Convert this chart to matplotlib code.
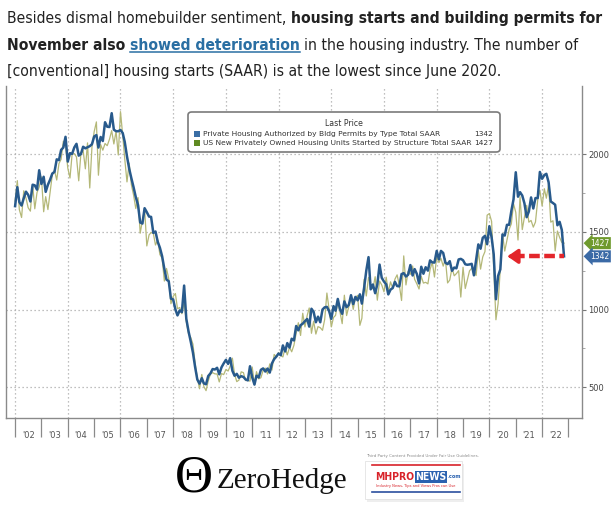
import matplotlib
matplotlib.use("Agg")
import matplotlib.pyplot as plt
import matplotlib.dates as mdates
import matplotlib.transforms as mtrans
from matplotlib import font_manager
from matplotlib.patches import FancyBboxPatch, Rectangle
from matplotlib.lines import Line2D
import pandas as pd

# monthly SAAR, thousands, Jan 2002 - Nov 2022
permits = [
    1665, 1787, 1691, 1669, 1716, 1758, 1738, 1695, 1803, 1799, 1771, 1896,
    1808, 1854, 1757, 1803, 1835, 1875, 1885, 1966, 1961, 2027, 2042, 2111,
    1952, 2006, 2001, 2043, 2066, 1990, 2000, 2047, 2037, 2044, 2051, 2063,
    2113, 2122, 2042, 2110, 2084, 2205, 2176, 2174, 2263, 2157, 2147, 2147,
    2155, 2135, 2078, 1985, 1907, 1844, 1787, 1723, 1672, 1560, 1553, 1652,
    1626, 1598, 1596, 1493, 1502, 1436, 1398, 1343, 1261, 1192, 1182, 1070,
    1065, 1001, 962, 994, 983, 1154, 941, 860, 793, 723, 628, 549,
    523, 558, 525, 519, 572, 589, 617, 614, 625, 583, 628, 653,
    676, 650, 687, 606, 574, 586, 561, 571, 566, 550, 544, 635,
    563, 517, 574, 563, 612, 621, 601, 620, 594, 653, 681, 697,
    717, 706, 769, 730, 784, 755, 812, 801, 894, 866, 899, 909,
    925, 939, 890, 1005, 985, 918, 954, 918, 1000, 1014, 1017, 991,
    940, 1022, 992, 1068, 1003, 972, 1052, 1015, 1030, 1092, 1035, 1081,
    1059, 1098, 1038, 1140, 1250, 1337, 1130, 1161, 1105, 1161, 1289, 1204,
    1180, 1162, 1097, 1128, 1138, 1178, 1151, 1149, 1228, 1234, 1212, 1224,
    1286, 1219, 1260, 1229, 1168, 1275, 1230, 1272, 1250, 1316, 1303, 1302,
    1377, 1323, 1377, 1364, 1301, 1292, 1311, 1249, 1270, 1265, 1322, 1326,
    1317, 1291, 1288, 1290, 1294, 1220, 1317, 1419, 1391, 1461, 1474, 1420,
    1536, 1464, 1356, 1066, 1216, 1258, 1483, 1476, 1545, 1545, 1635, 1709,
    1883, 1726, 1755, 1733, 1683, 1594, 1630, 1721, 1650, 1717, 1717, 1885,
    1841, 1865, 1873, 1819, 1695, 1685, 1674, 1542, 1564, 1512, 1342,
]
starts = [
    1698, 1829, 1642, 1592, 1764, 1717, 1655, 1633, 1804, 1648, 1753, 1788,
    1853, 1629, 1726, 1643, 1751, 1867, 1897, 1833, 1939, 1967, 2083, 2057,
    1911, 1846, 1998, 2003, 1981, 1828, 2002, 2024, 1905, 2072, 1782, 2042,
    2144, 2207, 1864, 2061, 2025, 2068, 2054, 2095, 2151, 2065, 2147, 1994,
    2273, 2119, 1969, 1821, 1942, 1802, 1737, 1650, 1720, 1491, 1570, 1649,
    1409, 1480, 1495, 1490, 1415, 1448, 1354, 1330, 1183, 1264, 1197, 1037,
    1084, 1103, 1005, 1013, 973, 1046, 923, 844, 820, 777, 652, 560,
    490, 582, 505, 478, 540, 585, 594, 586, 585, 534, 588, 581,
    614, 604, 636, 687, 583, 536, 546, 599, 594, 543, 545, 539,
    630, 517, 600, 554, 561, 608, 623, 585, 650, 610, 711, 694,
    723, 704, 695, 753, 708, 757, 728, 770, 847, 915, 833, 976,
    888, 962, 1010, 847, 925, 842, 890, 883, 866, 935, 1106, 1003,
    888, 949, 962, 1052, 985, 909, 1092, 961, 1019, 1080, 1001, 1077,
    1091, 898, 944, 1194, 1087, 1206, 1160, 1133, 1211, 1060, 1183, 1158,
    1114, 1208, 1113, 1178, 1136, 1195, 1223, 1156, 1058, 1345, 1158, 1246,
    1226, 1280, 1194, 1165, 1132, 1213, 1170, 1175, 1165, 1257, 1305, 1209,
    1339, 1302, 1329, 1279, 1327, 1171, 1190, 1267, 1217, 1231, 1250, 1080,
    1272, 1135, 1189, 1249, 1265, 1257, 1219, 1379, 1260, 1338, 1373, 1607,
    1617, 1567, 1269, 934, 1038, 1265, 1487, 1376, 1448, 1515, 1552, 1680,
    1625, 1447, 1725, 1514, 1594, 1670, 1562, 1573, 1530, 1563, 1703, 1768,
    1666, 1777, 1716, 1805, 1562, 1571, 1377, 1505, 1463, 1432, 1427,
]
dates = pd.date_range("2002-01-01", periods=len(permits), freq="MS")

year_labels = ["'02", "'03", "'04", "'05", "'06", "'07", "'08", "'09", "'10", "'11",
               "'12", "'13", "'14", "'15", "'16", "'17", "'18", "'19", "'20", "'21", "'22"]
y_ticks = [500, 1000, 1500, 2000]
y_minor = [750, 1250, 1750]

legend_title = "Last Price"
permits_name = "Private Housing Authorized by Bldg Permits by Type Total SAAR"
starts_name = "US New Privately Owned Housing Units Started by Structure Total SAAR"

intro = [
    [("Besides dismal homebuilder sentiment,", "normal", False),
     ("housing starts and building permits for", "bold", False)],
    [("November also", "bold", False), ("showed deterioration", "bold", True),
     ("in the housing industry. The number of", "normal", False)],
    [("[conventional] housing starts (SAAR) is at the lowest since June 2020.", "normal", False)],
]

BLUE = "#285a8c"
OLIVE = "#b4b878"
RED = "#e3262b"
LINK = "#2a6fa3"

W, H = 611, 517
fig = plt.figure(figsize=(W / 100, H / 100), dpi=100)
renderer = fig.canvas.get_renderer()


def fx(px):
    return px / W


def fy(py):
    return 1 - py / H


# narrow sans for the intro paragraph if we have one
try:
    font_manager.findfont(font_manager.FontProperties(family="Liberation Sans Narrow"),
                          fallback_to_default=False)
    body_font = dict(family="Liberation Sans Narrow")
except Exception:
    body_font = dict(family="DejaVu Sans", stretch="condensed")


def draw_intro(size):
    arts = []
    sp = (fig.text(0, 0, "a a", fontsize=size, **body_font).get_window_extent(renderer).width -
          fig.text(0, 0, "aa", fontsize=size, **body_font).get_window_extent(renderer).width)
    for t in fig.texts[-2:]:
        t.remove()
    widths = []
    for i, line in enumerate(intro):
        x = 7
        base = 23 + i * 26.6
        for txt, weight, link in line:
            t = fig.text(fx(x), fy(base), txt, fontsize=size, fontweight=weight,
                         color=LINK if link else "#222222", va="baseline", ha="left", **body_font)
            bb = t.get_window_extent(renderer)
            arts.append(t)
            if link:
                ln = Line2D([fx(x), fx(x + bb.width)], [fy(base + 2.5)] * 2,
                            transform=fig.transFigure, color=LINK, lw=1.1)
                fig.add_artist(ln)
                arts.append(ln)
            x += bb.width + sp
        widths.append(x - sp - 7)
    return arts, widths


arts, widths = draw_intro(12)
for a in arts:
    a.remove()
draw_intro(12 * 595 / widths[0])

# chart
ax = fig.add_axes([fx(6), fy(418), fx(582) - fx(6), fy(86) - fy(418)])
ax.plot(dates, starts, color=OLIVE, lw=0.9, zorder=3)
ax.plot(dates, permits, color=BLUE, lw=1.8, zorder=4)

ax.set_xlim(pd.Timestamp("2001-08-28"), pd.Timestamp("2023-07-08"))
ax.set_ylim(302, 2438)

ax.xaxis.set_major_locator(mdates.YearLocator())
ax.xaxis.set_major_formatter(plt.NullFormatter())
ax.set_xticks(pd.date_range("2002-07-01", periods=len(year_labels), freq="12MS"), minor=True)
ax.set_xticklabels(year_labels, minor=True)
ax.tick_params(axis="x", which="major", direction="out", length=14, color="#8a8a8a", width=0.9)
ax.tick_params(axis="x", which="minor", length=0, pad=9, labelsize=6, labelcolor="#555555")

ax.yaxis.tick_right()
ax.set_yticks(y_ticks)
ax.set_yticks(y_minor, minor=True)
ax.tick_params(axis="y", which="major", direction="out", length=3, color="#777777",
               labelsize=6, labelcolor="#444444", pad=1.5)
ax.tick_params(axis="y", which="minor", direction="out", length=2, color="#999999")

ax.yaxis.grid(True, which="major", color="#aaaaaa", ls=(0, (1, 2.2)), lw=0.9)
for d in pd.date_range("2002-01-01", "2022-01-01", freq="2YS"):
    ax.axvline(d, color="#aaaaaa", ls=(0, (1, 2.2)), lw=0.9, zorder=1)

ax.spines["top"].set_visible(False)
for s in ["left", "right", "bottom"]:
    ax.spines[s].set_color("#8a8a8a")
    ax.spines[s].set_linewidth(1.0)

# last value tags
tr = mtrans.blended_transform_factory(ax.transAxes, ax.transData)
ax.text(1.014, starts[-1], str(starts[-1]), transform=tr, fontsize=5.5, color="white",
        va="center", ha="left",
        bbox=dict(boxstyle="larrow,pad=0.2", fc="#6f9a2d", ec="none"))
ax.text(1.014, permits[-1], str(permits[-1]), transform=tr, fontsize=5.5, color="white",
        va="center", ha="left",
        bbox=dict(boxstyle="larrow,pad=0.2", fc="#3b6aa6", ec="none"))

# red dashed arrow pointing back from the latest print
tip = dates[-1] - pd.DateOffset(months=27)
ax.plot([tip + pd.DateOffset(months=4), dates[-1]], [permits[-1]] * 2, color=RED, lw=3.2,
        ls=(0, (2.4, 1.0)), solid_capstyle="butt", zorder=6)
ax.annotate("", xy=(tip, permits[-1]), xytext=(tip + pd.DateOffset(months=5), permits[-1]),
            arrowprops=dict(arrowstyle="-|>,head_length=0.5,head_width=0.35",
                            color=RED, lw=2.5, mutation_scale=12), zorder=6)

# legend box drawn by hand
box = FancyBboxPatch((fx(188), fy(152)), fx(500) - fx(188), fy(112) - fy(152),
                     boxstyle="round,pad=0,rounding_size=0.006", transform=fig.transFigure,
                     fc="white", ec="#7a7a7a", lw=1.2, zorder=10)
fig.add_artist(box)
fig.text(fx(344), fy(123), legend_title, fontsize=5.6, color="#333333", ha="center", va="center",
         zorder=11)
for yy, name, val, col in [(134.3, permits_name, permits[-1], "#3a6ea5"),
                           (143.3, starts_name, starts[-1], "#5f8a22")]:
    fig.add_artist(Rectangle((fx(194), fy(yy + 3)), 6 / W, 6 / H, transform=fig.transFigure,
                             fc=col, ec="none", zorder=11))
    fig.text(fx(203), fy(yy), name, fontsize=5.4, color="#333333", ha="left", va="center",
             zorder=11)
    fig.text(fx(493), fy(yy), str(val), fontsize=5.4, color="#333333", ha="right", va="center",
             zorder=11)

# ZeroHedge mark
fig.text(fx(194), fy(479), "\u0398", fontsize=38, family="Liberation Serif",
         ha="center", va="center", color="black")
fig.text(fx(217), fy(488), "ZeroHedge", fontsize=21, family="Liberation Serif", ha="left",
         va="baseline", color="#111111")

# MHProNews badge
fig.text(fx(366), fy(456), "Third Party Content Provided Under Fair Use Guidelines.", fontsize=2.9,
         color="#888888", ha="left", va="center")
fig.add_artist(Rectangle((fx(367), fy(502)), 97 / W, 38 / H, transform=fig.transFigure,
                         fc="#eeeeee", ec="none"))
fig.add_artist(Rectangle((fx(365), fy(499)), 97 / W, 38 / H, transform=fig.transFigure,
                         fc="white", ec="#dddddd", lw=0.5))
fig.add_artist(Line2D([fx(372), fx(460)], [fy(465)] * 2, transform=fig.transFigure,
                      color="#d8232a", lw=1.2))
fig.add_artist(Line2D([fx(372), fx(460)], [fy(492)] * 2, transform=fig.transFigure,
                      color="#2b4f9e", lw=1.2))
x = 375
for txt, col, bg in [("MHPRO", "#d8232a", None), ("NEWS", "white", "#2b62b0"), (".com", "#2b62b0", None)]:
    t = fig.text(fx(x), fy(477), txt, fontsize=7.5 if txt != ".com" else 4, fontweight="bold",
                 color=col, ha="left", va="center", stretch="condensed",
                 bbox=dict(boxstyle="square,pad=0.05", fc=bg, ec="none") if bg else None)
    x += t.get_window_extent(renderer).width + 1
fig.text(fx(416), fy(486.5), "Industry News, Tips and Views Pros can Use", fontsize=2.6,
         color="#d8232a", ha="center", va="center")

fig.savefig("out.png", dpi=100)
